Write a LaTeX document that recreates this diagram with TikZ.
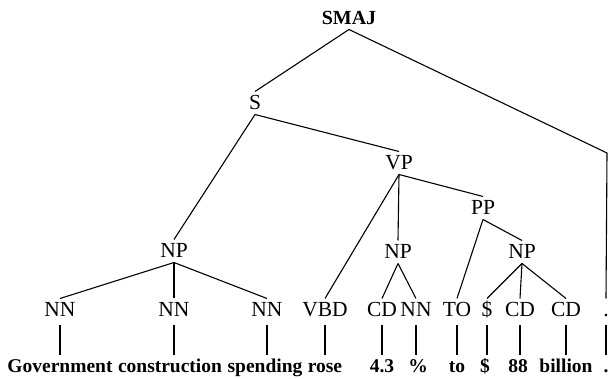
\documentclass[tikz,border=0pt]{standalone}
\usepackage{fontspec}
\setmainfont{Liberation Serif}
\begin{document}
\begin{tikzpicture}[x=1pt,y=-1pt,
  cat/.style={font=\fontsize{21.5}{21.5}\selectfont, inner sep=0pt,
    text height=14pt, text depth=0pt, outer ysep=4.5pt},
  root/.style={cat, font=\fontsize{20}{20}\selectfont\bfseries},
  word/.style={font=\fontsize{19.5}{19.5}\selectfont\bfseries, inner sep=0pt,
    text height=13pt, text depth=4pt, outer ysep=5pt, anchor=base},
  branch/.style={line width=1.1pt},
  leaf/.style={line width=1.1pt, shorten <=4pt}]
\useasboundingbox (0,0) rectangle (608,379);

% phrase-level categories
\node[root] (smaj) at (349,18) {SMAJ};
\node[cat] (s)   at (255,103) {S};
\node[cat] (vp)  at (399,163) {VP};
\node[cat] (pp)  at (483,208) {PP};
\node[cat] (np1) at (174,251) {NP};
\node[cat] (np2) at (398,252) {NP};
\node[cat] (np3) at (522,252) {NP};

% part-of-speech tags
\node[cat] (t1)  at (60,310)  {NN};
\node[cat] (t2)  at (174,310) {NN};
\node[cat] (t3)  at (267,310) {NN};
\node[cat] (t4)  at (325,310) {VBD};
\node[cat] (t5)  at (382,310) {CD};
\node[cat] (t6)  at (416,310) {NN};
\node[cat] (t7)  at (457,310) {TO};
\node[cat] (t8)  at (487,310) {\$};
\node[cat] (t9)  at (520,310) {CD};
\node[cat] (t10) at (566,310) {CD};
\node[cat] (t11) at (606,310) {.};
\coordinate (bend) at (607,153);

% words
\node[word] (w1)  at (60,373)  {Government};
\node[word] (w2)  at (170,373) {construction};
\node[word] (w3)  at (265,373) {spending};
\node[word] (w4)  at (325,373) {rose};
\node[word] (w5)  at (382,373) {4.3};
\node[word] (w6)  at (418,373) {\%};
\node[word] (w7)  at (457,373) {to};
\node[word] (w8)  at (485,373) {\$};
\node[word] (w9)  at (518,373) {88};
\node[word] (w10) at (566,373) {billion};
\node[word] (w11) at (606,373) {.};

% tree branches
\draw[branch] (smaj.south) -- (s.north);
\draw[branch] (smaj.south) -- (bend) -- (t11.north);
\draw[branch] (s.south) -- (np1.north);
\draw[branch] (s.south) -- (vp.north);
\draw[branch] (vp.south) -- (t4.north);
\draw[branch] (vp.south) -- (np2.north);
\draw[branch] (vp.south) -- (pp.north);
\draw[branch] (pp.south) -- (t7.north);
\draw[branch] (pp.south) -- (np3.north);
\foreach \c in {t1,t2,t3} \draw[branch] (np1.south) -- (\c.north);
\foreach \c in {t5,t6} \draw[branch] (np2.south) -- (\c.north);
\foreach \c in {t8,t9,t10} \draw[branch] (np3.south) -- (\c.north);

% tag-to-word stems
\foreach \i in {1,...,11}
  \draw[leaf] (t\i.south) -- (t\i.south |- w\i.north);
\end{tikzpicture}
\end{document}
